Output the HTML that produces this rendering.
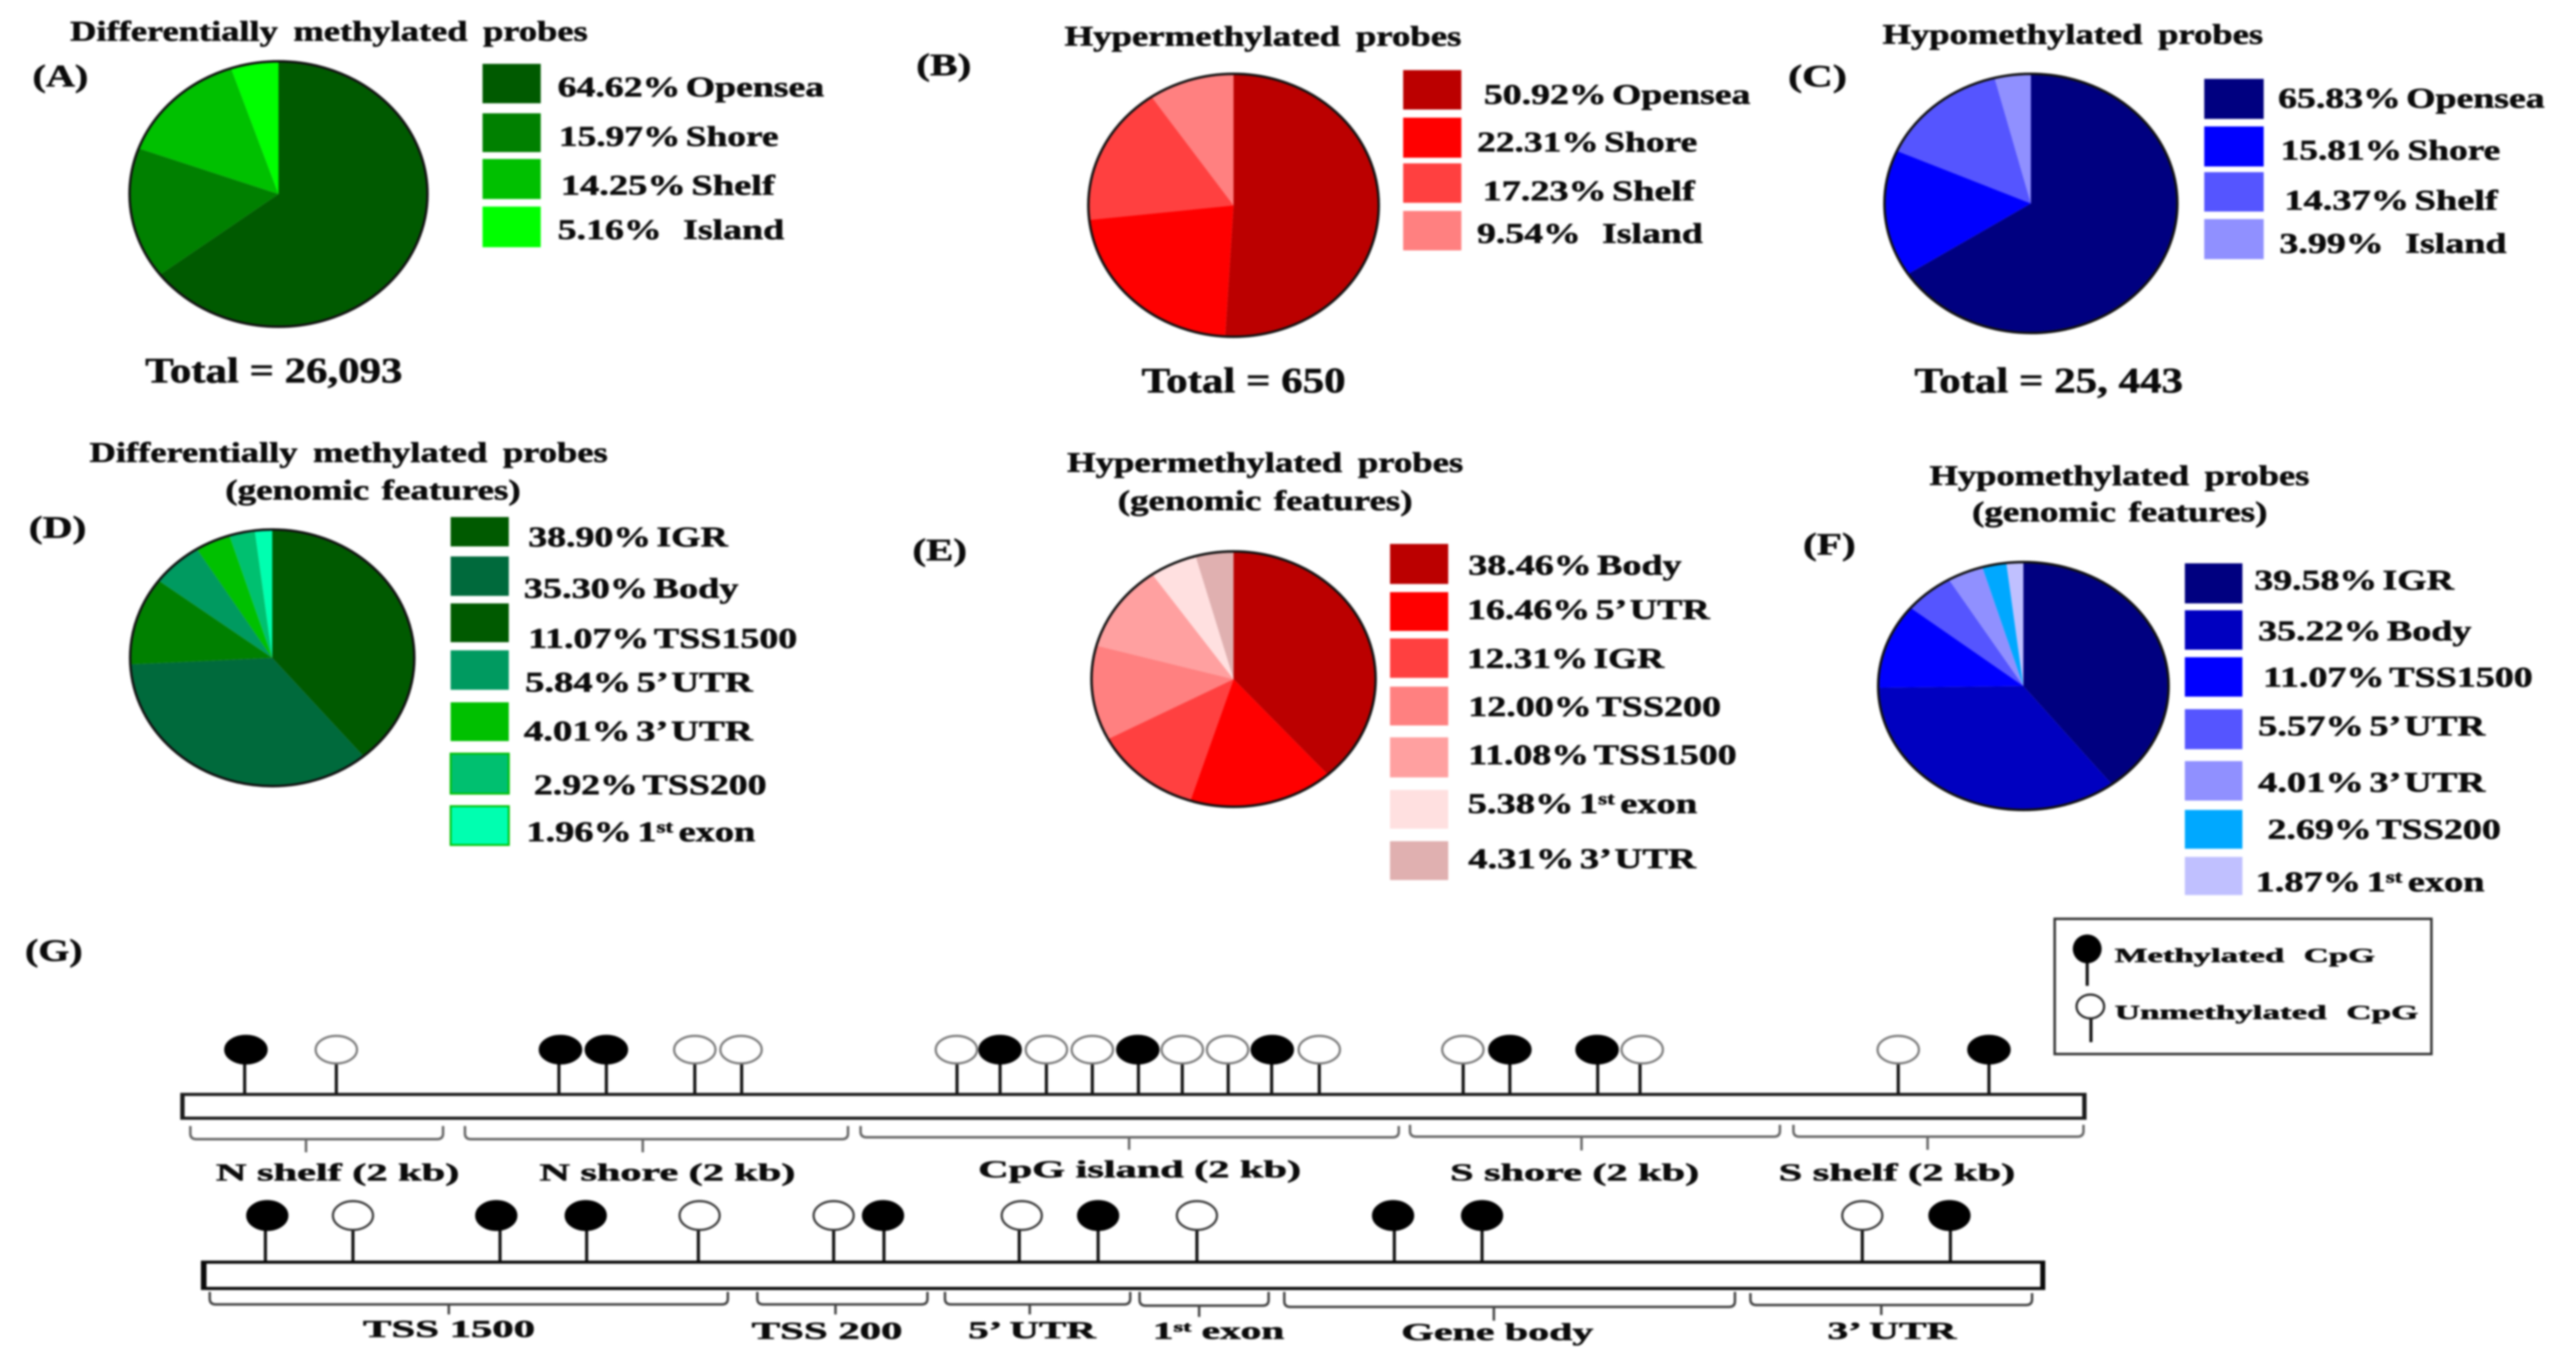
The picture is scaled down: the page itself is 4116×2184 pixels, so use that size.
<!DOCTYPE html>
<html lang="en">
<head>
<meta charset="utf-8">
<title>Differentially methylated probes</title>
<style>
html,body{margin:0;padding:0;background:#fff;}
svg{display:block;filter:blur(1.6px);}
text{font-family:"Liberation Serif",serif;font-weight:bold;fill:#0a0a0a;stroke:#0a0a0a;stroke-width:0.8px;}
.title{font-size:45px;}
.tag{font-size:50px;}
.total{font-size:57px;}
.key{font-size:32px;}
</style>
</head>
<body>
<svg id="figure" xmlns="http://www.w3.org/2000/svg" width="4116" height="2184" viewBox="0 0 4116 2184">
<rect x="0" y="0" width="4116" height="2184" fill="#ffffff"/>

<text class="title" x="112" y="65" textLength="827" lengthAdjust="spacingAndGlyphs" style="word-spacing:8px">Differentially methylated probes</text>
<text class="tag" x="52" y="138" textLength="89" lengthAdjust="spacingAndGlyphs">(A)</text>
<text class="total" x="232" y="611" textLength="411" lengthAdjust="spacingAndGlyphs">Total = 26,093</text>
<g id="panelA"></g>

<text class="title" x="1701" y="73" textLength="634" lengthAdjust="spacingAndGlyphs" style="word-spacing:8px">Hypermethylated probes</text>
<text class="tag" x="1464" y="120" textLength="88" lengthAdjust="spacingAndGlyphs">(B)</text>
<text class="total" x="1824" y="627" textLength="326" lengthAdjust="spacingAndGlyphs">Total = 650</text>
<g id="panelB"></g>

<text class="title" x="3008" y="70" textLength="608" lengthAdjust="spacingAndGlyphs" style="word-spacing:8px">Hypomethylated probes</text>
<text class="tag" x="2857" y="138" textLength="94" lengthAdjust="spacingAndGlyphs">(C)</text>
<text class="total" x="3059" y="627" textLength="429" lengthAdjust="spacingAndGlyphs">Total = 25, 443</text>
<g id="panelC"></g>

<text class="title" x="143" y="738" textLength="828" lengthAdjust="spacingAndGlyphs" style="word-spacing:8px">Differentially methylated probes</text>
<text class="title" x="360" y="798" textLength="472" lengthAdjust="spacingAndGlyphs" style="word-spacing:4px">(genomic features)</text>
<text class="tag" x="46" y="859" textLength="92" lengthAdjust="spacingAndGlyphs">(D)</text>
<g id="panelD"></g>

<text class="title" x="1705" y="754" textLength="633" lengthAdjust="spacingAndGlyphs" style="word-spacing:8px">Hypermethylated probes</text>
<text class="title" x="1786" y="815" textLength="471" lengthAdjust="spacingAndGlyphs" style="word-spacing:4px">(genomic features)</text>
<text class="tag" x="1458" y="895" textLength="87" lengthAdjust="spacingAndGlyphs">(E)</text>
<g id="panelE"></g>

<text class="title" x="3083" y="775" textLength="607" lengthAdjust="spacingAndGlyphs" style="word-spacing:8px">Hypomethylated probes</text>
<text class="title" x="3151" y="833" textLength="472" lengthAdjust="spacingAndGlyphs" style="word-spacing:4px">(genomic features)</text>
<text class="tag" x="2881" y="886" textLength="84" lengthAdjust="spacingAndGlyphs">(F)</text>
<g id="panelF"></g>

<text class="tag" x="40" y="1535" textLength="92" lengthAdjust="spacingAndGlyphs">(G)</text>
<g>
  <rect x="288" y="1746" width="3046" height="43" fill="#1a1a1a"/>
  <rect x="295" y="1751" width="3032" height="33" fill="#fff"/>
</g>
<g>
  <rect x="321" y="2014" width="2947" height="47" fill="#0a0a0a"/>
  <rect x="330" y="2019" width="2930" height="37" fill="#fff"/>
</g>
<g id="cpgRow"></g>
<g id="geneRow"></g>

<g>
  <rect x="3283" y="1468" width="602" height="216" fill="#fff" stroke="#333" stroke-width="4"/>
  <line x1="3335" y1="1538" x2="3335" y2="1575" stroke="#111" stroke-width="5"/>
  <ellipse cx="3335" cy="1516" rx="23" ry="23" fill="#000"/>
  <text class="key" x="3379" y="1537" textLength="416" lengthAdjust="spacingAndGlyphs" style="word-spacing:10px">Methylated CpG</text>
  <line x1="3341" y1="1628" x2="3341" y2="1665" stroke="#111" stroke-width="5"/>
  <ellipse cx="3340" cy="1608" rx="22" ry="19" fill="#fff" stroke="#222" stroke-width="3.5"/>
  <text class="key" x="3379" y="1628" textLength="485" lengthAdjust="spacingAndGlyphs" style="word-spacing:10px">Unmethylated CpG</text>
</g>
</svg>

<script>
// ---- Panel A: all differentially methylated probes by CpG context ----
const panelACategories = ['Opensea', 'Shore', 'Shelf', '   Island'];
const panelAValues = [64.62, 15.97, 14.25, 5.16];
const panelAColors = ['#005a00', '#008000', '#00c000', '#00ff00'];

// ---- Panel B: hypermethylated probes by CpG context ----
const panelBCategories = ['Opensea', 'Shore', 'Shelf', '   Island'];
const panelBValues = [50.92, 22.31, 17.23, 9.54];
const panelBColors = ['#bb0000', '#ff0000', '#ff4040', '#ff8080'];

// ---- Panel C: hypomethylated probes by CpG context ----
const panelCCategories = ['Opensea', 'Shore', 'Shelf', '   Island'];
const panelCValues = [65.83, 15.81, 14.37, 3.99];
const panelCColors = ['#000080', '#0000ff', '#5555ff', '#9090ff'];

// ---- Panel D: all differentially methylated probes by genomic feature ----
const panelDCategories = ['IGR', 'Body', 'TSS1500', '5’ UTR', '3’ UTR', 'TSS200', '1st exon'];
const panelDValues = [38.90, 35.30, 11.07, 5.84, 4.01, 2.92, 1.96];
const panelDColors = ['#005a00', '#006a3c', '#008000', '#009a60', '#00c000', '#00c070', '#00ffb0'];
const panelDKeyColors = ['#005a00', '#006a3c', '#005a00', '#009a60', '#00c000', '#00c070', '#00ffb0'];

// ---- Panel E: hypermethylated probes by genomic feature ----
const panelECategories = ['Body', '5’ UTR', 'IGR', 'TSS200', 'TSS1500', '1st exon', '3’ UTR'];
const panelEValues = [38.46, 16.46, 12.31, 12.00, 11.08, 5.38, 4.31];
const panelEColors = ['#bb0000', '#ff0000', '#ff4040', '#ff8080', '#ffa0a0', '#ffe0e0', '#e0b0b0'];

// ---- Panel F: hypomethylated probes by genomic feature ----
const panelFCategories = ['IGR', 'Body', 'TSS1500', '5’ UTR', '3’ UTR', 'TSS200', '1st exon'];
const panelFValues = [39.58, 35.22, 11.07, 5.57, 4.01, 2.69, 1.87];
const panelFColors = ['#000080', '#0000c0', '#0000ff', '#5555ff', '#9090ff', '#00a8ff', '#c0c0ff'];

// ---- Panel G: CpG sites along a 10 kb region (kb from the left end) ----
const cpgSiteKb = [0.338, 0.819, 1.987, 2.236, 2.70, 2.946, 4.076, 4.302, 4.545, 4.786, 5.028, 5.258, 5.499, 5.727, 5.977, 6.732, 6.977, 7.438, 7.66, 9.015, 9.491];
const cpgSiteMethylated = [1, 0, 1, 1, 0, 0, 0, 1, 0, 0, 1, 0, 0, 1, 0, 0, 1, 1, 0, 0, 1];
const cpgRegionNames = ['N shelf (2 kb)', 'N shore (2 kb)', 'CpG island (2 kb)', 'S shore (2 kb)', 'S shelf (2 kb)'];
const cpgRegionStartKb = [0.053, 1.494, 3.570, 6.453, 8.465];
const cpgRegionEndKb = [1.379, 3.504, 6.394, 8.394, 9.987];
const cpgRegionMidKb = [0.660, 2.427, 4.979, 7.353, 9.169];

// ---- Panel G: CpG sites along a gene (percent of gene length) ----
const geneSitePct = [3.50, 8.25, 16.23, 20.93, 26.99, 34.33, 37.06, 44.40, 48.68, 54.04, 64.75, 69.51, 90.14, 94.92];
const geneSiteMethylated = [1, 0, 1, 1, 0, 0, 1, 0, 1, 0, 1, 1, 0, 1];
const geneRegionNames = ['TSS 1500', 'TSS 200', '5’ UTR', '1st exon', 'Gene body', '3’ UTR'];
const geneRegionStartPct = [0.48, 30.19, 40.37, 50.93, 58.78, 84.07];
const geneRegionEndPct = [28.59, 39.42, 50.42, 57.93, 83.23, 99.35];
const geneRegionMidPct = [13.45, 34.43, 44.97, 54.16, 70.15, 91.17];

// ---- Layout (pixels), separate from data ----
const layoutA = {cx:445, cy:310, rx:238, ry:212, keyX:771, keyW:93,
  keyY:[[102,165],[181,243],[254,318],[330,395]],
  text:[[891,1317,154],[893,1244,233],[896,1238,311],[891,1253,382]]};
const layoutB = {cx:1971, cy:328, rx:232, ry:210, keyX:2242, keyW:93,
  keyY:[[112,175],[188,252],[261,324],[337,400]],
  text:[[2371,2797,166],[2360,2712,242],[2369,2708,320],[2360,2721,388]]};
const layoutC = {cx:3245, cy:325, rx:234, ry:207, keyX:3522, keyW:95,
  keyY:[[126,190],[202,266],[275,338],[350,414]],
  text:[[3640,4066,172],[3644,3995,255],[3650,3991,335],[3642,4005,404]]};
const layoutD = {cx:435, cy:1051, rx:227, ry:205, keyX:720, keyW:93,
  keyY:[[826,873],[889,952],[964,1026],[1039,1102],[1122,1184],[1204,1268],[1288,1350]],
  text:[[844,1163,873],[837,1180,955],[844,1274,1035],[839,1203,1105],[837,1203,1183],[853,1225,1269],[841,1207,1344]],
  keyEdge:[null,null,null,null,null,'#00c000','#00c000']};
const layoutE = {cx:1971, cy:1085, rx:227, ry:204, keyX:2221, keyW:93,
  keyY:[[869,933],[946,1008],[1020,1083],[1097,1159],[1178,1242],[1262,1324],[1344,1406]],
  text:[[2346,2687,918],[2344,2732,989],[2344,2659,1067],[2346,2750,1144],[2346,2775,1221],[2345,2712,1299],[2346,2710,1387]]};
const layoutF = {cx:3233, cy:1096, rx:232, ry:198, keyX:3491, keyW:92,
  keyY:[[900,964],[975,1038],[1050,1113],[1133,1197],[1216,1279],[1294,1356],[1369,1430]],
  text:[[3602,3921,942],[3608,3949,1023],[3616,4047,1097],[3608,3971,1175],[3608,3971,1265],[3623,3996,1340],[3604,3970,1424]]};
const cpgLabelBoxes = [[345,734,1886],[862,1271,1886],[1563,2079,1881],[2317,2715,1886],[2842,3220,1886]];
const cpgBraceYs = [[1799,1820,1841],[1799,1820,1841],[1799,1817,1837],[1797,1816,1838],[1797,1816,1837]];
const geneLabelBoxes = [[580,855,2136],[1201,1442,2139],[1547,1751,2138],[1842,2052,2139],[2239,2546,2141],[2920,3126,2139]];
const geneBraceYs = [[2064,2084,2100],[2064,2084,2100],[2064,2084,2100],[2064,2086,2104],[2064,2088,2110],[2066,2085,2101]];
const cpgHeadNudge = [2, 0, 2.5, 0, 0, -1, -1, 0, 0, 0, -1, 0, -1, 1, 0, -0.5, 0, -1, 3.5, 0, 0];
const geneHeadNudge = [3, 0, -6, -1.5, 2, 0, -1.5, 4, 0, 0, -2, 0, 0, -1.5];

// ---- Axis functions ----
const SVGNS = 'http://www.w3.org/2000/svg';
const angleOf = (value, total) => value / total * Math.PI * 2;
const kbToX = kb => 288 + kb * 304.5;
const pctToX = pct => 321 + pct * 29.45;

function make(tag) {
  return document.createElementNS(SVGNS, tag);
}

// Adds text then stretches it horizontally to fill [x0, x1], as in the reference.
function fitText(group, str, box, size, wordGap) {
  const t = make('text');
  t.setAttributeNS('http://www.w3.org/XML/1998/namespace', 'xml:space', 'preserve');
  t.style.whiteSpace = 'pre';
  t.style.fontSize = size + 'px';
  t.style.wordSpacing = wordGap + 'px';
  const sup = str.match(/^(.*?\d)st( .*)$/);
  if (sup) {
    const a = make('tspan');
    a.textContent = sup[1];
    t.appendChild(a);
    const b = make('tspan');
    b.textContent = 'st';
    b.setAttribute('dy', -size * 0.3);
    b.style.fontSize = size * 0.6 + 'px';
    t.appendChild(b);
    const c = make('tspan');
    c.textContent = sup[2];
    c.setAttribute('dy', size * 0.3);
    t.appendChild(c);
  } else {
    t.textContent = str;
  }
  group.appendChild(t);
  const len = t.getComputedTextLength();
  const sx = len > 0 ? (box[1] - box[0]) / len : 1;
  t.setAttribute('transform', 'translate(' + box[0] + ' ' + box[2] + ') scale(' + sx + ' 1)');
  return t;
}

function drawPieChart(groupId, categories, values, colors, keyColors, L) {
  const group = document.getElementById(groupId);
  const total = values.reduce((s, v) => s + v, 0);
  let running = 0;
  values.forEach((v, i) => {
    const a0 = angleOf(running, total);
    running += v;
    const a1 = angleOf(running, total);
    const x0 = L.cx + L.rx * Math.sin(a0), y0 = L.cy - L.ry * Math.cos(a0);
    const x1 = L.cx + L.rx * Math.sin(a1), y1 = L.cy - L.ry * Math.cos(a1);
    const large = a1 - a0 > Math.PI ? 1 : 0;
    const slice = make('path');
    slice.setAttribute('d', 'M' + L.cx + ' ' + L.cy + 'L' + x0 + ' ' + y0 + 'A' + L.rx + ' ' + L.ry + ' 0 ' + large + ' 1 ' + x1 + ' ' + y1 + 'Z');
    slice.setAttribute('fill', colors[i]);
    
    
    group.appendChild(slice);
  });
  const rim = make('ellipse');
  rim.setAttribute('cx', L.cx);
  rim.setAttribute('cy', L.cy);
  rim.setAttribute('rx', L.rx);
  rim.setAttribute('ry', L.ry);
  rim.setAttribute('fill', 'none');
  rim.setAttribute('stroke', '#111');
  rim.setAttribute('stroke-width', '4');
  
  
  group.appendChild(rim);
  categories.forEach((cat, i) => {
    const swatch = make('rect');
    swatch.setAttribute('x', L.keyX);
    swatch.setAttribute('y', L.keyY[i][0]);
    swatch.setAttribute('width', L.keyW);
    swatch.setAttribute('height', L.keyY[i][1] - L.keyY[i][0]);
    swatch.setAttribute('fill', keyColors[i]);
    if (L.keyEdge && L.keyEdge[i]) {
      swatch.setAttribute('stroke', L.keyEdge[i]);
      swatch.setAttribute('stroke-width', '3');
    }
    
    
    group.appendChild(swatch);
    const label = fitText(group, values[i].toFixed(2) + '% ' + cat, L.text[i], 46, -5);
    
    
  });
}

function drawSites(group, positions, methylated, nudges, toX, stemBottom, stemTop, headY, rx, ry, ringColor) {
  positions.forEach((p, i) => {
    const x = toX(p);
    const stem = make('line');
    stem.setAttribute('x1', x);
    stem.setAttribute('x2', x);
    stem.setAttribute('y1', stemTop);
    stem.setAttribute('y2', stemBottom);
    stem.setAttribute('stroke', '#111');
    stem.setAttribute('stroke-width', '5');
    
    
    group.appendChild(stem);
    const head = make('ellipse');
    head.setAttribute('cx', x + nudges[i]);
    head.setAttribute('cy', headY);
    head.setAttribute('rx', rx);
    head.setAttribute('ry', ry);
    head.setAttribute('fill', methylated[i] ? '#000' : '#fff');
    head.setAttribute('stroke', methylated[i] ? '#000' : ringColor);
    head.setAttribute('stroke-width', '3.5');
    
    
    group.appendChild(head);
  });
}

function drawBraces(group, names, starts, ends, mids, toX, ys, boxes, stroke) {
  names.forEach((name, i) => {
    const x0 = toX(starts[i]), x1 = toX(ends[i]), xm = toX(mids[i]);
    const t = ys[i][0], b = ys[i][1], e = ys[i][2];
    const brace = make('path');
    brace.setAttribute('d', 'M' + x0 + ' ' + t + 'L' + x0 + ' ' + (b - 9) + 'Q' + x0 + ' ' + b + ' ' + (x0 + 10) + ' ' + b +
      'L' + (x1 - 10) + ' ' + b + 'Q' + x1 + ' ' + b + ' ' + x1 + ' ' + (b - 9) + 'L' + x1 + ' ' + t +
      'M' + xm + ' ' + (b - 1) + 'L' + xm + ' ' + e);
    brace.setAttribute('fill', 'none');
    brace.setAttribute('stroke', stroke);
    brace.setAttribute('stroke-width', '4');
    
    
    group.appendChild(brace);
    const label = fitText(group, name, boxes[i], 39, 0);
    
    
  });
}

drawPieChart('panelA', panelACategories, panelAValues, panelAColors, panelAColors, layoutA);
drawPieChart('panelB', panelBCategories, panelBValues, panelBColors, panelBColors, layoutB);
drawPieChart('panelC', panelCCategories, panelCValues, panelCColors, panelCColors, layoutC);
drawPieChart('panelD', panelDCategories, panelDValues, panelDColors, panelDKeyColors, layoutD);
drawPieChart('panelE', panelECategories, panelEValues, panelEColors, panelEColors, layoutE);
drawPieChart('panelF', panelFCategories, panelFValues, panelFColors, panelFColors, layoutF);

const cpgGroup = document.getElementById('cpgRow');
drawSites(cpgGroup, cpgSiteKb, cpgSiteMethylated, cpgHeadNudge, kbToX, 1747, 1698, 1677, 33, 22, '#777');
drawBraces(cpgGroup, cpgRegionNames, cpgRegionStartKb, cpgRegionEndKb, cpgRegionMidKb, kbToX, cpgBraceYs, cpgLabelBoxes, '#666');

const geneGroup = document.getElementById('geneRow');
drawSites(geneGroup, geneSitePct, geneSiteMethylated, geneHeadNudge, pctToX, 2015, 1964, 1942, 32, 23, '#333');
drawBraces(geneGroup, geneRegionNames, geneRegionStartPct, geneRegionEndPct, geneRegionMidPct, pctToX, geneBraceYs, geneLabelBoxes, '#444');
</script>
</body>
</html>
